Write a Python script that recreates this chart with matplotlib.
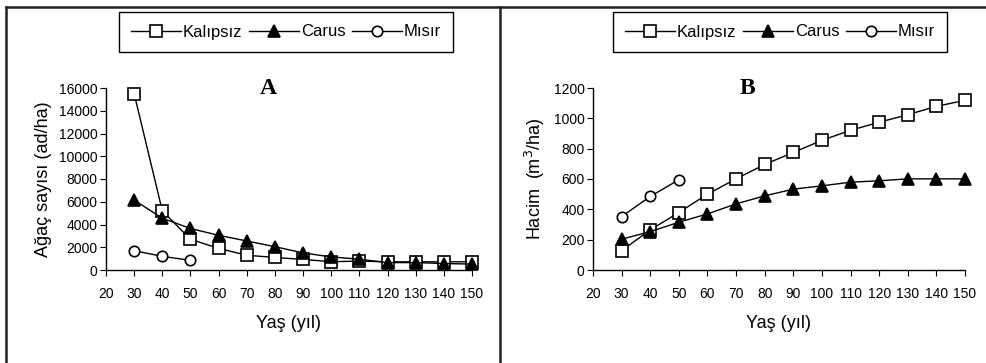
import matplotlib
matplotlib.use('Agg')
import matplotlib.pyplot as plt
from matplotlib.lines import Line2D

plt.rcParams['font.family'] = ['Liberation Sans', 'DejaVu Sans']

# ages (yıl)
yas = [30, 40, 50, 60, 70, 80, 90, 100, 110, 120, 130, 140, 150]
yas_misir = [30, 40, 50]

# A: tree count (ad/ha)
agac_kalipsiz = [15500, 5200, 2700, 1900, 1300, 1100, 930, 730, 780, 720, 720, 720, 720]
agac_carus = [6150, 4550, 3650, 3050, 2550, 2050, 1500, 1150, 950, 650, 650, 570, 520]
agac_misir = [1700, 1200, 850]

# B: volume (m3/ha)
hacim_kalipsiz = [128, 264, 379, 500, 601, 696, 775, 855, 921, 974, 1024, 1079, 1119]
hacim_carus = [203, 253, 315, 370, 436, 489, 533, 555, 579, 588, 601, 601, 601]
hacim_misir = [352, 485, 595]

xticks = [20, 30, 40, 50, 60, 70, 80, 90, 100, 110, 120, 130, 140, 150]

W, H = 987, 363
fig = plt.figure(figsize=(W / 100, H / 100), dpi=100)


def fx(px):
    return px / W


def fy(py):
    return 1 - py / H


# panel frames
fig.add_artist(Line2D([fx(6), fx(6)], [fy(7), 0], color='#222222', lw=1.8))
fig.add_artist(Line2D([fx(500), fx(500)], [fy(7), 0], color='#222222', lw=1.8))
fig.add_artist(Line2D([fx(6), 1], [fy(7), fy(7)], color='#222222', lw=1.8))


def make_panel(x0, x1, ydata, ymax, ystep, ylabel, letter, legx0, legx1, letx):
    ax = fig.add_axes([fx(x0), fy(270), fx(x1) - fx(x0), fy(88) - fy(270)])
    k, c, m = ydata
    style = dict(color='black', lw=1.0, mec='black', mew=1.2, clip_on=False)
    l1, = ax.plot(yas, k, marker='s', mfc='white', ms=8, label='Kalıpsız', **style)
    l2, = ax.plot(yas, c, marker='^', mfc='black', ms=8, label='Carus', **style)
    l3, = ax.plot(yas_misir, m, marker='o', mfc='white', ms=7.5, label='Mısır', **style)
    ax.set_xlim(20, 150)
    ax.set_ylim(0, ymax)
    ax.set_xticks(xticks)
    ax.set_yticks(range(0, ymax + 1, ystep))
    for s in ['top', 'right']:
        ax.spines[s].set_visible(False)
    for s in ['left', 'bottom']:
        ax.spines[s].set_linewidth(1.0)
    ax.tick_params(axis='y', direction='out', length=4, labelsize=10, pad=2)
    ax.tick_params(axis='x', direction='out', length=4, labelsize=10, pad=8)
    ax.set_xlabel('Yaş (yıl)', fontsize=13, labelpad=10)
    ax.set_ylabel(ylabel, fontsize=13, labelpad=5)
    fig.text(fx(letx), fy(89), letter, fontsize=17, fontweight='bold',
             family='Liberation Serif', ha='center', va='center')
    # legend box
    leg = fig.legend(handles=[l1, l2, l3], loc='center', ncol=3,
                     bbox_to_anchor=((fx(legx0) + fx(legx1)) / 2, fy(32)),
                     frameon=True, fancybox=False, fontsize=12,
                     handlelength=3.0, handletextpad=0.1, columnspacing=0.4,
                     borderpad=0.75, edgecolor='black', framealpha=1)
    leg.get_frame().set_linewidth(1.0)
    return ax


make_panel(106, 472, (agac_kalipsiz, agac_carus, agac_misir), 16000, 2000,
           'Ağaç sayısı (ad/ha)', 'A', 124, 448, 268)
make_panel(593, 965, (hacim_kalipsiz, hacim_carus, hacim_misir), 1200, 200,
           'Hacim  (m$^3$/ha)', 'B', 618, 942, 747)

fig.savefig('out.png', dpi=100)
